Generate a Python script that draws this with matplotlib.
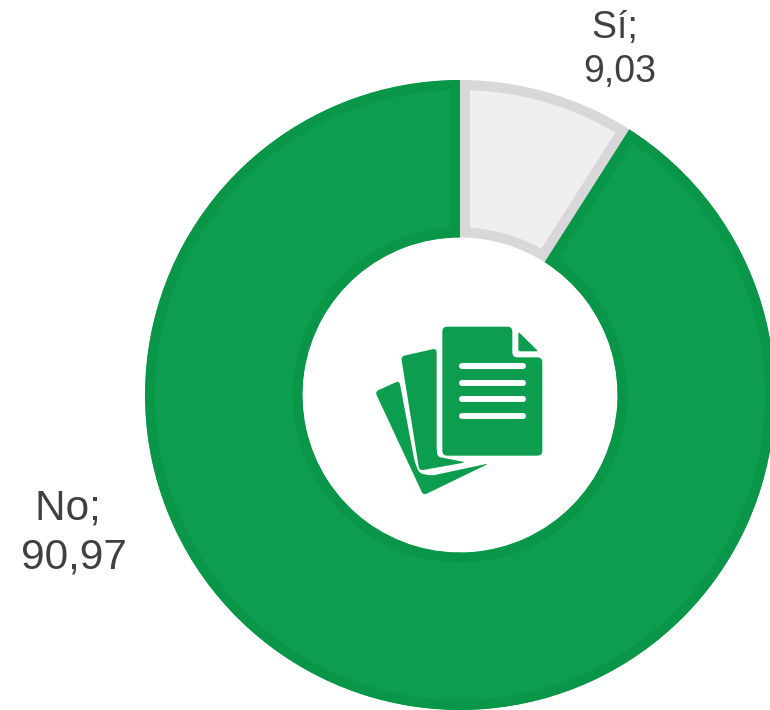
import matplotlib
matplotlib.use("Agg")
import numpy as np
import matplotlib.pyplot as plt
from matplotlib.patches import PathPatch
from matplotlib.path import Path

categories = ["Sí", "No"]
values = [9.03, 90.97]
fills = ["#F0EEF0", "#0C9E4E"]
borders = ["#D9D7D9", "#0A9648"]

W, H = 770, 710
DPI = 100
px = 72 / DPI
plt.rcParams["font.family"] = ["Liberation Sans", "DejaVu Sans"]

fig = plt.figure(figsize=(W / DPI, H / DPI), dpi=DPI, facecolor="white")
ax = fig.add_axes([145 / W, 0, 630 / W, 630 / H])
wedges, _ = ax.pie(values, colors=fills, startangle=90, counterclock=False, radius=1,
                   wedgeprops=dict(width=0.5))
ax.set_xlim(-1, 1)
ax.set_ylim(-1, 1)
for w, b in zip(wedges, borders):
    w.set_edgecolor(b)
    w.set_linewidth(20 * px)
    w.set_clip_on(True)
    w.set_clip_path(w)

# overlay in pixel coordinates for icon and labels
ov = fig.add_axes([0, 0, 1, 1], facecolor="none")
ov.set_xlim(0, W)
ov.set_ylim(H, 0)
ov.axis("off")

def z(pts):
    return np.array([(360 + a / 3, 310 + b / 3) for a, b in pts], float)

def rounded(pts, r=4.0):
    """Closed path through pts with corners softened by quadratic curves."""
    pts = z(pts)
    n = len(pts)
    verts, codes = [], []
    for i in range(n):
        p, prev, nxt = pts[i], pts[i - 1], pts[(i + 1) % n]
        a = p + (prev - p) * min(r / np.linalg.norm(prev - p), 0.45)
        b = p + (nxt - p) * min(r / np.linalg.norm(nxt - p), 0.45)
        verts.append(a)
        codes.append(Path.MOVETO if i == 0 else Path.LINETO)
        verts += [p, b]
        codes += [Path.CURVE3, Path.CURVE3]
    verts.append(verts[0])
    codes.append(Path.CLOSEPOLY)
    return Path(verts, codes)

green = fills[1]
back = [(118, 212), (45, 245), (190, 556), (388, 460), (215, 497), (178, 490), (164, 455)]
middle = [(230, 115), (123, 139), (178, 482), (318, 457), (232, 440), (230, 415)]
front = [(247, 50), (457, 50), (457, 142), (547, 142), (547, 437), (247, 437)]
fold = [(475, 65), (535, 124), (475, 124)]
for shape, r in ((back, 4), (middle, 4), (front, 5), (fold, 2)):
    ov.add_patch(PathPatch(rounded(shape, r), facecolor=green, edgecolor="none"))
for y in (168, 218, 268, 319):
    p = z([(306, y), (488, y)])
    ov.plot(p[:, 0], p[:, 1], color="white", lw=6 * px, solid_capstyle="round")

label_xy = {"Sí": (620, 50), "No": (74, 546 - 13)}
label_px = {"Sí": 37.5, "No": 42.4}
for c, v in zip(categories, values):
    txt = f"{c}; \n{v:.2f}".replace(".", ",")
    ov.text(*label_xy[c], txt, ha="center", va="center", fontsize=label_px[c] * px,
            color="#404040", linespacing=1.29, multialignment="center")

fig.savefig("out.png", dpi=DPI, facecolor="white")
